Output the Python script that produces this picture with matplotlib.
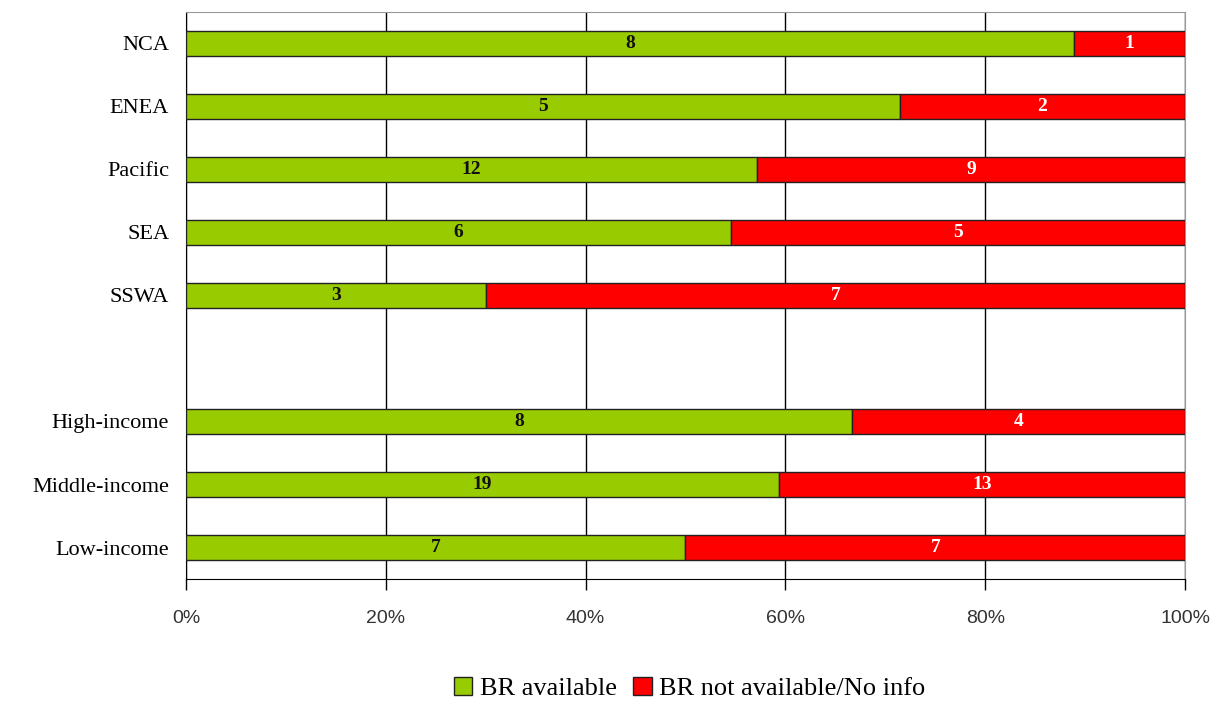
import numpy as np
import matplotlib.pyplot as plt
from matplotlib.patches import Patch

categories = ['NCA', 'ENEA', 'Pacific', 'SEA', 'SSWA', '', 'High-income', 'Middle-income', 'Low-income']
available = [8, 5, 12, 6, 3, 0, 8, 19, 7]
not_available = [1, 2, 9, 5, 7, 0, 4, 13, 7]
xticks = [0, 20, 40, 60, 80, 100]

green = '#99CC00'
red = '#FF0000'
serif = 'Liberation Serif'

avail = np.array(available, dtype=float)
notav = np.array(not_available, dtype=float)
tot = avail + notav
tot[tot == 0] = 1
pa = avail / tot * 100
pn = notav / tot * 100
has = (avail + notav) > 0

fig = plt.figure(figsize=(12.23, 7.01), dpi=100)
ax = fig.add_axes([0.152, 0.174, 0.817, 0.809])

y = np.arange(len(categories))
ax.barh(y[has], pa[has], height=0.41, color=green, edgecolor='#222222', linewidth=1, zorder=3)
ax.barh(y[has], pn[has], left=pa[has], height=0.41, color=red, edgecolor='#222222', linewidth=1, zorder=3)

for i in range(len(categories)):
    if not has[i]:
        continue
    ax.text(pa[i] / 2, y[i], str(available[i]), ha='center', va='center',
            fontsize=14, fontweight='bold', family=serif, color='#111111', zorder=4)
    ax.text(pa[i] + pn[i] / 2, y[i], str(not_available[i]), ha='center', va='center',
            fontsize=14, fontweight='bold', family=serif, color='white', zorder=4)

ax.set_xlim(0, 100)
ax.set_ylim(len(categories) - 0.5, -0.5)
ax.set_yticks(y)
ax.set_yticklabels(categories, family=serif, fontsize=16)
ax.tick_params(axis='y', length=0, pad=12)
ax.set_xticks(xticks)
ax.set_xticklabels([f'{t}%' for t in xticks], family='Liberation Sans', fontsize=14, color='#333333')
ax.tick_params(axis='x', length=8, width=1, pad=14, direction='out')
ax.grid(axis='x', color='black', linewidth=1, zorder=1)
ax.spines['top'].set_color('#999999')
ax.spines['right'].set_color('#999999')

handles = [Patch(facecolor=green, edgecolor='#222222', label='BR available'),
           Patch(facecolor=red, edgecolor='#222222', label='BR not available/No info')]
fig.legend(handles=handles, loc='center', bbox_to_anchor=(0.564, 0.018), ncol=2, frameon=False,
           prop={'family': serif, 'size': 19}, handlelength=0.7, handleheight=0.7,
           handletextpad=0.3, columnspacing=0.6)

fig.savefig('out.png', dpi=100)
